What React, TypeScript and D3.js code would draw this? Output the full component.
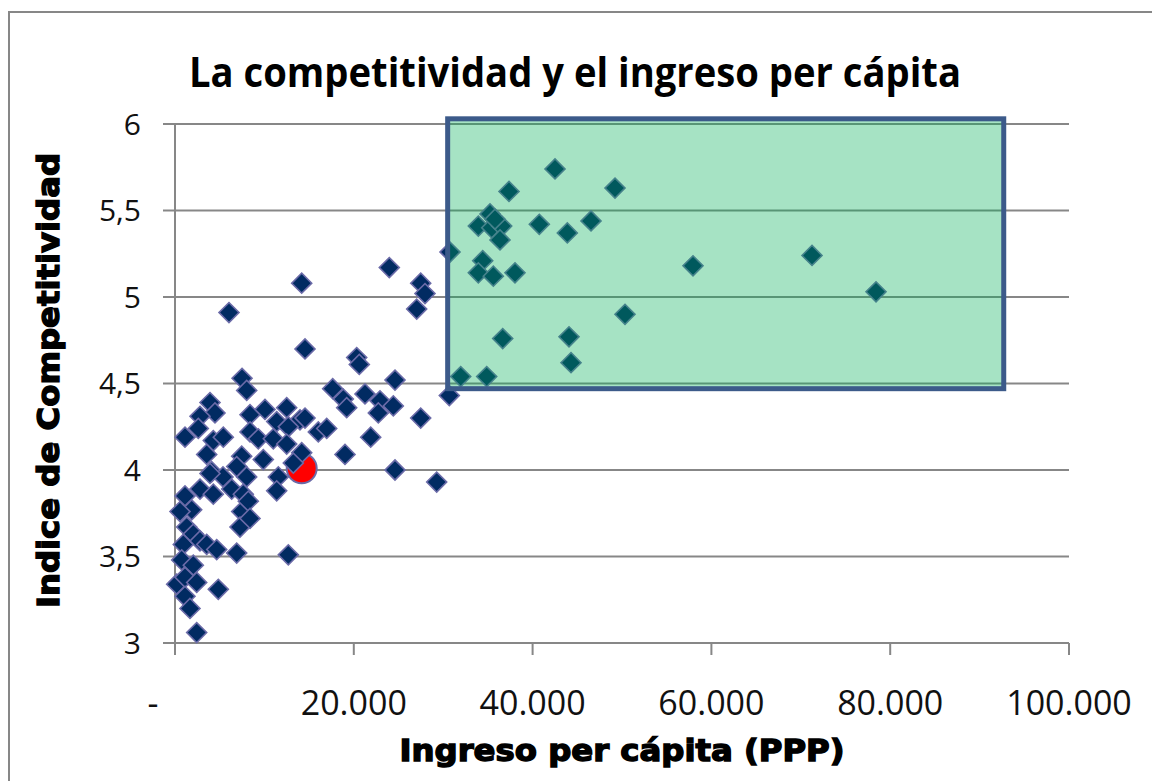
import React, { useEffect, useRef } from 'react';
import * as d3 from 'd3';

// ingreso per cápita (PPP) y índice de competitividad
const ingreso = [
  7500, 8020, 3915, 4474, 2797, 2606, 1119, 4284, 5403, 3546,
  8390, 10067, 12495, 11376, 13983, 14542, 12674, 16030, 16969, 8390,
  9318, 10996, 12495, 7461, 9877, 14173, 13233, 4105, 6902, 8020,
  5369, 3915, 11555, 2797, 4284, 6343, 7640, 1119, 1868, 559,
  7461, 8199, 11376, 7271, 1309, 2047, 928, 2797, 3546, 4665,
  6902, 12674, 749, 2047, 190, 1119, 2427, 4844, 1119, 1678,
  2427, 6040, 8390, 14173, 14542, 23972, 27484, 27965, 27037, 20325,
  20616, 24609, 17640, 18826, 19206, 21253, 22931, 22741, 24419, 27484,
  30684, 21891, 19016, 24609, 29274, 30762, 34420, 33928, 35605, 38032,
  36657, 31959, 34867, 42507, 49218, 37361, 35236, 33928, 35426, 36545,
  36355, 35795, 40751, 43883, 46534, 50337, 44073, 44297, 57943, 71255,
  78414,
];
const indice = [
  4.53, 4.46, 4.39, 4.33, 4.31, 4.24, 4.19, 4.17, 4.19, 4.09,
  4.32, 4.35, 4.36, 4.28, 4.29, 4.30, 4.25, 4.22, 4.24, 4.22,
  4.18, 4.18, 4.15, 4.08, 4.06, 4.10, 4.04, 3.99, 4.02, 3.96,
  3.96, 3.98, 3.96, 3.89, 3.86, 3.89, 3.86, 3.85, 3.77, 3.76,
  3.76, 3.82, 3.88, 3.67, 3.67, 3.63, 3.57, 3.59, 3.57, 3.54,
  3.52, 3.51, 3.48, 3.45, 3.34, 3.38, 3.35, 3.31, 3.27, 3.20,
  3.06, 4.91, 3.72, 5.08, 4.70, 5.17, 5.08, 5.02, 4.93, 4.65,
  4.61, 4.52, 4.47, 4.41, 4.36, 4.44, 4.40, 4.33, 4.37, 4.30,
  4.43, 4.19, 4.09, 4.00, 3.93, 5.26, 5.21, 5.14, 5.12, 5.14,
  4.76, 4.54, 4.54, 5.74, 5.63, 5.61, 5.48, 5.41, 5.40, 5.41,
  5.33, 5.45, 5.42, 5.37, 5.44, 4.90, 4.77, 4.62, 5.18, 5.24,
  5.03,
];

// punto destacado (círculo rojo)
const destacado = [14173, 4.01];
// zona resaltada: ingreso desde/hasta, índice desde/hasta
const zonaIngreso = [30500, 92700];
const zonaIndice = [4.47, 6.03];

const xTicks = [0, 20000, 40000, 60000, 80000, 100000];
const yTicks = [3, 3.5, 4, 4.5, 5, 5.5, 6];

const App = () => {
  const svgRef = useRef<SVGSVGElement>(null);

  useEffect(() => {
    const width = 1152;
    const height = 781;
    const svg = d3.select(svgRef.current);
    svg.selectAll('*').remove();
    svg.attr('width', width).attr('height', height);

    const x = d3.scaleLinear().domain([0, 100000]).range([175, 1069]);
    const y = d3.scaleLinear().domain([3, 6]).range([643, 124]);
    const gris = '#878787';

    // marco del gráfico
    svg.append('rect')
      .attr('x', 9).attr('y', 12)
      .attr('width', 1160).attr('height', 800)
      .attr('fill', '#fff')
      .attr('stroke', gris)
      .attr('stroke-width', 2);

    // título
    svg.append('text')
      .attr('x', 575).attr('y', 87)
      .attr('text-anchor', 'middle')
      .attr('font-family', '"Open Sans", sans-serif')
      .attr('font-weight', 700)
      .attr('font-size', 42)
      .attr('textLength', 772)
      .attr('lengthAdjust', 'spacingAndGlyphs')
      .text('La competitividad y el ingreso per cápita');

    // líneas de división horizontales
    svg.append('g').selectAll('line')
      .data(yTicks)
      .enter()
      .append('line')
      .attr('x1', x(0) - 12).attr('x2', x(100000))
      .attr('y1', (d) => y(d)).attr('y2', (d) => y(d))
      .attr('stroke', gris)
      .attr('stroke-width', 2);

    // eje vertical
    svg.append('line')
      .attr('x1', x(0)).attr('x2', x(0))
      .attr('y1', y(6)).attr('y2', y(3))
      .attr('stroke', gris).attr('stroke-width', 2);

    // marcas del eje horizontal
    svg.append('g').selectAll('line')
      .data(xTicks)
      .enter()
      .append('line')
      .attr('x1', (d) => x(d)).attr('x2', (d) => x(d))
      .attr('y1', y(3)).attr('y2', y(3) + 12)
      .attr('stroke', gris).attr('stroke-width', 2);

    // etiquetas eje y
    svg.append('g').selectAll('text')
      .data(yTicks)
      .enter()
      .append('text')
      .attr('x', 141)
      .attr('y', (d) => y(d))
      .attr('dy', '0.36em')
      .attr('text-anchor', 'end')
      .attr('font-family', '"Open Sans", sans-serif')
      .attr('font-size', 30)
      .attr('fill', '#111')
      .text((d) => String(d).replace('.', ','));

    // etiquetas eje x
    const fmt = d3.format(',');
    svg.append('g').selectAll('text')
      .data(xTicks)
      .enter()
      .append('text')
      .attr('x', (d) => (d === 0 ? x(d) - 22 : x(d)))
      .attr('y', 715)
      .attr('text-anchor', 'middle')
      .attr('font-family', '"Open Sans", sans-serif')
      .attr('font-size', 34)
      .attr('fill', '#111')
      .text((d) => (d === 0 ? '-' : fmt(d).replace(/,/g, '.')));

    // títulos de ejes
    svg.append('text')
      .attr('x', (x(0) + x(100000)) / 2).attr('y', 761)
      .attr('text-anchor', 'middle')
      .attr('font-family', '"DejaVu Sans", sans-serif')
      .attr('font-weight', 700)
      .attr('font-size', 30)
      .attr('stroke', '#000')
      .attr('stroke-width', 1.4)
      .attr('textLength', 445)
      .attr('lengthAdjust', 'spacingAndGlyphs')
      .text('Ingreso per cápita (PPP)');

    svg.append('text')
      .attr('transform', `translate(59,${(y(3) + y(6)) / 2 - 3}) rotate(-90)`)
      .attr('text-anchor', 'middle')
      .attr('font-family', '"DejaVu Sans", sans-serif')
      .attr('font-weight', 700)
      .attr('font-size', 30)
      .attr('stroke', '#000')
      .attr('stroke-width', 1.4)
      .attr('textLength', 455)
      .attr('lengthAdjust', 'spacingAndGlyphs')
      .text('Indice de Competitividad');

    // punto destacado
    svg.append('circle')
      .attr('cx', x(destacado[0]))
      .attr('cy', y(destacado[1]))
      .attr('r', 15)
      .attr('fill', '#ff0000')
      .attr('stroke', '#6b6ba8')
      .attr('stroke-width', 2);

    // puntos
    const diamond = d3.symbol().type(d3.symbolSquare).size(200);
    svg.append('g').selectAll('path')
      .data(ingreso.map((v, i) => [v, indice[i]]))
      .enter()
      .append('path')
      .attr('d', diamond)
      .attr('transform', (d) => `translate(${x(d[0])},${y(d[1])}) rotate(45)`)
      .attr('fill', '#012b62')
      .attr('stroke', '#6b6ba8')
      .attr('stroke-width', 1.6);

    // zona resaltada
    svg.append('rect')
      .attr('x', x(zonaIngreso[0]))
      .attr('y', y(zonaIndice[1]))
      .attr('width', x(zonaIngreso[1]) - x(zonaIngreso[0]))
      .attr('height', y(zonaIndice[0]) - y(zonaIndice[1]))
      .attr('fill', 'rgba(0,174,86,0.35)')
      .attr('stroke', '#3c5a8a')
      .attr('stroke-width', 5);
  }, []);

  return (
    <svg ref={svgRef} style={{ position: 'absolute', left: 0, top: 0 }}></svg>
  );
};

export default App;
